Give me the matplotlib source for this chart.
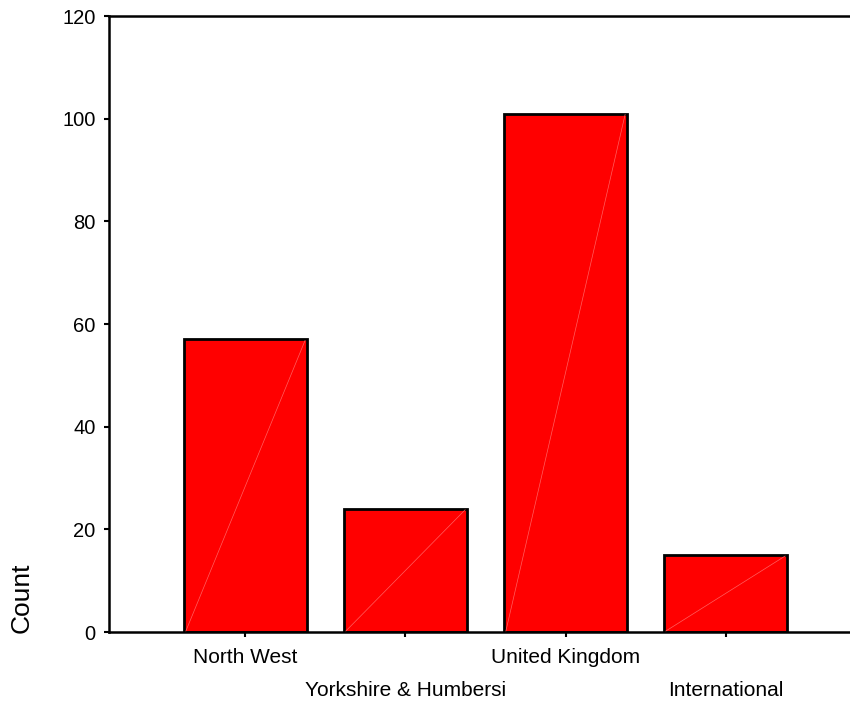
import matplotlib
matplotlib.use("Agg")
import matplotlib.pyplot as plt

plt.rcParams['font.family'] = ['Liberation Sans', 'DejaVu Sans']

# Counts per region
regions = ["North West", "Yorkshire & Humbersi", "United Kingdom", "International"]
counts = [57, 24, 101, 15]
y_ticks = [0, 20, 40, 60, 80, 100, 120]

fig = plt.figure(figsize=(8.5, 7.04), dpi=100)
ax = fig.add_axes([109 / 850, 72 / 704, 1 - 109 / 850, (632 - 16) / 704])

x = list(range(len(regions)))
width = 0.765
ax.bar(x, counts, width=width, color="#ff0000", edgecolor="black",
       linewidth=2.0, zorder=2)

# faint diagonal seam across each bar face
for xi, c in zip(x, counts):
    ax.plot([xi - width / 2 + 0.01, xi + width / 2 - 0.01], [0.2, c - 0.2],
            color="#ff6060", linewidth=0.5, zorder=3)

ax.set_xlim(-0.853, 3.778)
ax.set_ylim(0, 120)
ax.set_yticks(y_ticks)
ax.set_yticklabels([str(v) for v in y_ticks], fontsize=14.5)
ax.set_xticks(x)
ax.set_xticklabels(regions, fontsize=15)

ax.spines['right'].set_visible(False)
for s in ('left', 'top', 'bottom'):
    ax.spines[s].set_linewidth(1.8)
    ax.spines[s].set_color("black")

ax.tick_params(axis='both', direction='out', length=3.6, width=1.5, colors='black')
ax.tick_params(axis='y', pad=6)

for i, t in enumerate(ax.xaxis.get_major_ticks()):
    t.set_pad(8 if i % 2 == 0 else 32)

fig.text(22 / 850, 1 - 598 / 704, "Count", rotation=90, fontsize=19,
         ha='center', va='center')

fig.savefig("out.png", dpi=100)
